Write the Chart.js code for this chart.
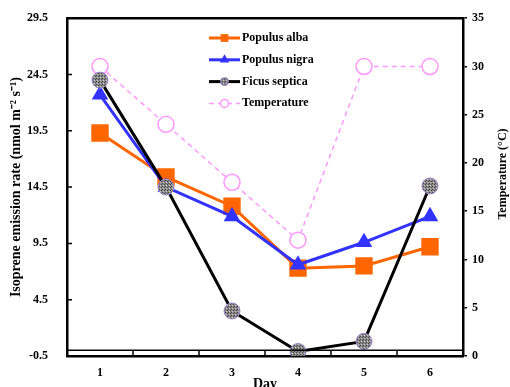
<!DOCTYPE html>
<html>
<head>
<meta charset="utf-8">
<script src="https://cdn.jsdelivr.net/npm/chart.js@4/dist/chart.umd.min.js"></script>
<style>
	html, body { margin: 0; padding: 0; background: #fff; }
	#wrap { width: 510px; height: 387px; }
</style>
</head>
<body>
<div id="wrap"><canvas id="emission_chart" width="510" height="387"></canvas></div>
<script>
// values
const days = ["1", "2", "3", "4", "5", "6"];
const populus_alba = [19.3, 15.4, 12.8, 7.3, 7.5, 9.2];
const populus_nigra = [22.7, 14.5, 11.9, 7.6, 9.6, 11.9];
const ficus_septica = [24.0, 14.5, 3.5, -0.1, 0.8, 14.6];
const temperature = [30, 24, 18, 12, 30, 30];

const emission_ticks = [-0.5, 4.5, 9.5, 14.5, 19.5, 24.5, 29.5];
const temperature_ticks = [0, 5, 10, 15, 20, 25, 30, 35];

const serif = "'Liberation Serif', 'Times New Roman', serif";

function gray_pattern() {
	let c = document.createElement("canvas");
	c.width = 3;
	c.height = 3;
	let g = c.getContext("2d");
	g.fillStyle = "#8a8a8a";
	g.fillRect(0, 0, 3, 3);
	g.fillStyle = "#4a4a4a";
	g.fillRect(0, 0, 1, 1);
	g.fillRect(2, 1, 1, 1);
	g.fillStyle = "#c8c8c8";
	g.fillRect(1, 2, 1, 1);
	return g.createPattern(c, "repeat");
}

// frame, inward ticks, the zero line and the right axis title
const frame_plugin = {
	id: "frame_plugin",
	afterDraw(chart) {
		const ctx = chart.ctx;
		const area = chart.chartArea;
		const y_scale = chart.scales.y;
		const x_scale = chart.scales.x;
		ctx.save();
		ctx.strokeStyle = "#000";

		ctx.lineWidth = 2.5;
		ctx.beginPath();
		ctx.moveTo(area.left - 1, area.top);
		ctx.lineTo(area.right + 1, area.top);
		ctx.stroke();

		ctx.lineWidth = 1.5;
		ctx.beginPath();
		let zero_y = y_scale.getPixelForValue(0);
		ctx.moveTo(area.left, zero_y);
		ctx.lineTo(area.right, zero_y);
		ctx.stroke();

		ctx.beginPath();
		for (let i = 0; i < emission_ticks.length; i++) {
			let py = y_scale.getPixelForValue(emission_ticks[i]);
			ctx.moveTo(area.left, py);
			ctx.lineTo(area.left + 5, py);
		}
		for (let i = 0; i < days.length - 1; i++) {
			let px = (x_scale.getPixelForTick(i) + x_scale.getPixelForTick(i + 1)) / 2;
			ctx.moveTo(px, area.bottom);
			ctx.lineTo(px, area.bottom - 5);
		}
		ctx.stroke();

		// right title reads bottom to top, like the left one
		ctx.translate(503, 174);
		ctx.rotate(-Math.PI / 2);
		ctx.fillStyle = "#000";
		ctx.font = "bold 12px " + serif;
		ctx.textAlign = "center";
		ctx.textBaseline = "middle";
		ctx.fillText("Temperature (\u00B0C)", 0, 0);
		ctx.restore();
	},
};

// legend with a line through the marker, drawn inside the plot
const legend_plugin = {
	id: "legend_plugin",
	afterDraw(chart) {
		const ctx = chart.ctx;
		const marker_radius = [5.5, 5.5, 4, 4];
		ctx.save();
		for (let i = 0; i < chart.data.datasets.length; i++) {
			const ds = chart.data.datasets[i];
			let y = 38 + i * 21.8;
			ctx.strokeStyle = ds.borderColor;
			ctx.lineWidth = ds.borderWidth;
			ctx.setLineDash(ds.borderDash || []);
			ctx.beginPath();
			ctx.moveTo(209, y);
			ctx.lineTo(240, y);
			ctx.stroke();
			ctx.setLineDash([]);
			ctx.fillStyle = ds.pointBackgroundColor;
			ctx.strokeStyle = ds.pointBorderColor;
			ctx.lineWidth = ds.pointBorderWidth;
			Chart.helpers.drawPoint(ctx, {
				pointStyle: ds.pointStyle,
				radius: marker_radius[i],
				rotation: 0,
				borderWidth: ds.pointBorderWidth,
			}, 224.5, y);
			ctx.fillStyle = "#000";
			ctx.font = "bold 12px " + serif;
			ctx.textBaseline = "middle";
			ctx.fillText(ds.label, 242, y);
		}
		ctx.restore();
	},
};

const ctx = document.getElementById("emission_chart").getContext("2d");

const my_chart = new Chart(ctx, {
	type: "line",
	data: {
		labels: days,
		datasets: [
			{
				label: "Populus alba",
				data: populus_alba,
				yAxisID: "y",
				borderColor: "#FF6600",
				borderWidth: 3,
				pointStyle: "rect",
				pointRadius: 12.3,
				pointBackgroundColor: "#FF6600",
				pointBorderColor: "#FF6600",
				pointBorderWidth: 0,
				order: 2,
			},
			{
				label: "Populus nigra",
				data: populus_nigra,
				yAxisID: "y",
				borderColor: "#3333FF",
				borderWidth: 3,
				pointStyle: "triangle",
				pointRadius: 9.6,
				pointBackgroundColor: "#3333FF",
				pointBorderColor: "#3333FF",
				pointBorderWidth: 0,
				order: 1,
			},
			{
				label: "Ficus septica",
				data: ficus_septica,
				yAxisID: "y",
				borderColor: "#000000",
				borderWidth: 3,
				pointStyle: "circle",
				pointRadius: 8,
				pointBackgroundColor: gray_pattern(),
				pointBorderColor: "#9a88cc",
				pointBorderWidth: 1,
				order: 0,
			},
			{
				label: "Temperature",
				data: temperature,
				yAxisID: "y1",
				borderColor: "#FF99FF",
				borderWidth: 1.5,
				borderDash: [5, 4],
				pointStyle: "circle",
				pointRadius: 8,
				pointBackgroundColor: "#ffffff",
				pointBorderColor: "#FF99FF",
				pointBorderWidth: 1.5,
				order: 3,
			},
		],
	},
	options: {
		responsive: false,
		animation: false,
		devicePixelRatio: 1,
		layout: { padding: { top: 17, right: 0, bottom: 0, left: 0 } },
		plugins: {
			legend: { display: false },
			tooltip: { enabled: false },
		},
		scales: {
			x: {
				type: "category",
				offset: true,
				border: { color: "#000", width: 2.5 },
				grid: { display: false },
				ticks: {
					color: "#000",
					padding: 2,
					font: { family: serif, weight: "bold", size: 12 },
				},
				title: {
					display: true,
					text: "Day",
					color: "#000",
					padding: { top: 0, bottom: -6 },
					font: { family: serif, weight: "bold", size: 14 },
				},
				afterFit: function (scale) {
					scale.height = 31;
				},
			},
			y: {
				position: "left",
				min: -0.5,
				max: 29.5,
				border: { color: "#000", width: 2.5 },
				grid: { display: false },
				afterBuildTicks: function (scale) {
					scale.ticks = emission_ticks.map(function (v) {
						return { value: v };
					});
				},
				ticks: {
					color: "#000",
					padding: 11,
					font: { family: serif, weight: "bold", size: 12 },
					callback: function (v) {
						return v.toFixed(1);
					},
				},
				title: {
					display: true,
					text: "Isoprene emission rate (nmol m\u207B\u00B2 s\u207B\u00B9)",
					color: "#000",
					padding: { top: 8, bottom: 0 },
					font: { family: serif, weight: "bold", size: 14 },
				},
				afterFit: function (scale) {
					scale.width = 67;
				},
			},
			y1: {
				position: "right",
				min: 0,
				max: 35,
				border: { color: "#000", width: 2.5 },
				grid: {
					display: true,
					drawOnChartArea: false,
					drawTicks: true,
					tickLength: 4,
					color: "#000",
					lineWidth: 1.5,
				},
				afterBuildTicks: function (scale) {
					scale.ticks = temperature_ticks.map(function (v) {
						return { value: v };
					});
				},
				ticks: {
					color: "#000",
					padding: 5,
					font: { family: serif, weight: "bold", size: 12 },
				},
				afterFit: function (scale) {
					scale.width = 47;
				},
			},
		},
	},
	plugins: [frame_plugin, legend_plugin],
});
</script>
</body>
</html>
